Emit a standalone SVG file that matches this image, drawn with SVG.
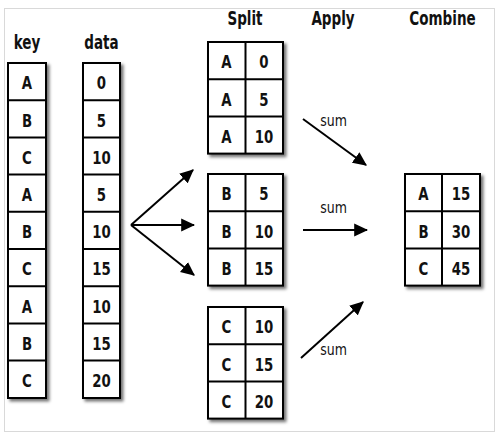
<svg xmlns="http://www.w3.org/2000/svg" width="500" height="437" viewBox="0 0 500 437">
<defs>
<filter id="sh" x="-20%" y="-10%" width="140%" height="130%">
<feDropShadow dx="2.5" dy="2.5" stdDeviation="1.5" flood-color="#000" flood-opacity="0.55"/>
</filter>
<marker id="ah" markerUnits="userSpaceOnUse" markerWidth="14" markerHeight="14" viewBox="0 0 12 12" refX="11" refY="6" orient="auto">
<path d="M0,0.5 L12,6 L0,11.5 Z" fill="#000"/>
</marker>
</defs>
<style>
.box{fill:#fff;stroke:#000;stroke-width:2;filter:url(#sh)}
.ln{stroke:#000;stroke-width:2;fill:none}
.t{font-family:"DejaVu Sans Condensed","DejaVu Sans",sans-serif;font-stretch:condensed;font-weight:bold;font-size:18.5px;text-anchor:middle;fill:#111}
.h{font-family:"DejaVu Sans Condensed","DejaVu Sans",sans-serif;font-stretch:condensed;font-weight:bold;font-size:19px;text-anchor:middle;fill:#111}
.s{font-family:"DejaVu Sans Condensed","DejaVu Sans",sans-serif;font-stretch:condensed;font-size:15.5px;text-anchor:middle;fill:#111}
.arr{stroke:#000;stroke-width:2;fill:none;marker-end:url(#ah)}
</style>
<rect x="0" y="0" width="500" height="437" fill="#fff"/>
<rect x="4.5" y="8.5" width="490" height="423" fill="#fff" stroke="#d9d9d9" stroke-width="1"/>

<g id="headers">
<text class="h" transform="translate(27,49) scale(0.79,1)">key</text>
<text class="h" transform="translate(101.5,49) scale(0.79,1)">data</text>
<text class="h" transform="translate(245,25) scale(0.79,1)">Split</text>
<text class="h" transform="translate(333,25) scale(0.79,1)">Apply</text>
<text class="h" transform="translate(442.5,25) scale(0.79,1)">Combine</text>
</g>

<g id="key">
<rect class="box" x="8" y="63" width="38" height="335"/>
<path class="ln" d="M8,100.2H46M8,137.4H46M8,174.6H46M8,211.8H46M8,249H46M8,286.2H46M8,323.4H46M8,360.6H46"/>
<g transform="translate(27,0) scale(0.8,1)">
<text class="t" x="0" y="89.5">A</text>
<text class="t" x="0" y="126.7">B</text>
<text class="t" x="0" y="163.9">C</text>
<text class="t" x="0" y="201.1">A</text>
<text class="t" x="0" y="238.3">B</text>
<text class="t" x="0" y="275.5">C</text>
<text class="t" x="0" y="312.7">A</text>
<text class="t" x="0" y="349.9">B</text>
<text class="t" x="0" y="387.1">C</text>
</g>
</g>

<g id="data">
<rect class="box" x="83" y="63" width="37" height="335"/>
<path class="ln" d="M83,100.2H120M83,137.4H120M83,174.6H120M83,211.8H120M83,249H120M83,286.2H120M83,323.4H120M83,360.6H120"/>
<g transform="translate(101.5,0) scale(0.8,1)">
<text class="t" x="0" y="89.5">0</text>
<text class="t" x="0" y="126.7">5</text>
<text class="t" x="0" y="163.9">10</text>
<text class="t" x="0" y="201.1">5</text>
<text class="t" x="0" y="238.3">10</text>
<text class="t" x="0" y="275.5">15</text>
<text class="t" x="0" y="312.7">10</text>
<text class="t" x="0" y="349.9">15</text>
<text class="t" x="0" y="387.1">20</text>
</g>
</g>

<g id="splitA">
<rect class="box" x="208" y="42" width="75" height="111.6"/>
<path class="ln" d="M245.5,42V153.6M208,79.2H283M208,116.4H283"/>
<g transform="translate(226.5,0) scale(0.8,1)">
<text class="t" x="0" y="68.5">A</text><text class="t" x="0" y="105.7">A</text><text class="t" x="0" y="142.9">A</text>
</g>
<g transform="translate(264,0) scale(0.8,1)">
<text class="t" x="0" y="68.5">0</text><text class="t" x="0" y="105.7">5</text><text class="t" x="0" y="142.9">10</text>
</g>
</g>

<g id="splitB">
<rect class="box" x="208" y="174" width="75" height="111.6"/>
<path class="ln" d="M245.5,174V285.6M208,211.2H283M208,248.4H283"/>
<g transform="translate(226.5,0) scale(0.8,1)">
<text class="t" x="0" y="200.5">B</text><text class="t" x="0" y="237.7">B</text><text class="t" x="0" y="274.9">B</text>
</g>
<g transform="translate(264,0) scale(0.8,1)">
<text class="t" x="0" y="200.5">5</text><text class="t" x="0" y="237.7">10</text><text class="t" x="0" y="274.9">15</text>
</g>
</g>

<g id="splitC">
<rect class="box" x="208" y="307" width="75" height="111.6"/>
<path class="ln" d="M245.5,307V418.6M208,344.2H283M208,381.4H283"/>
<g transform="translate(226.5,0) scale(0.8,1)">
<text class="t" x="0" y="333.5">C</text><text class="t" x="0" y="370.7">C</text><text class="t" x="0" y="407.9">C</text>
</g>
<g transform="translate(264,0) scale(0.8,1)">
<text class="t" x="0" y="333.5">10</text><text class="t" x="0" y="370.7">15</text><text class="t" x="0" y="407.9">20</text>
</g>
</g>

<g id="combine">
<rect class="box" x="405" y="174" width="75" height="111.6"/>
<path class="ln" d="M442,174V285.6M405,211.2H480M405,248.4H480"/>
<g transform="translate(423.5,0) scale(0.8,1)">
<text class="t" x="0" y="200.5">A</text><text class="t" x="0" y="237.7">B</text><text class="t" x="0" y="274.9">C</text>
</g>
<g transform="translate(461,0) scale(0.8,1)">
<text class="t" x="0" y="200.5">15</text><text class="t" x="0" y="237.7">30</text><text class="t" x="0" y="274.9">45</text>
</g>
</g>

<g id="connectors">
<line class="arr" x1="131" y1="225" x2="193" y2="170"/>
<line class="arr" x1="131" y1="225" x2="194" y2="225"/>
<line class="arr" x1="131" y1="225" x2="194" y2="275"/>
<line class="arr" x1="303" y1="119" x2="366" y2="165"/>
<line class="arr" x1="303" y1="230" x2="367" y2="230"/>
<line class="arr" x1="301" y1="358" x2="363" y2="302"/>
<text class="s" transform="translate(333.5,126) scale(0.9,1)">sum</text>
<text class="s" transform="translate(333.5,213) scale(0.9,1)">sum</text>
<text class="s" transform="translate(333.5,355) scale(0.9,1)">sum</text>
</g>
</svg>
